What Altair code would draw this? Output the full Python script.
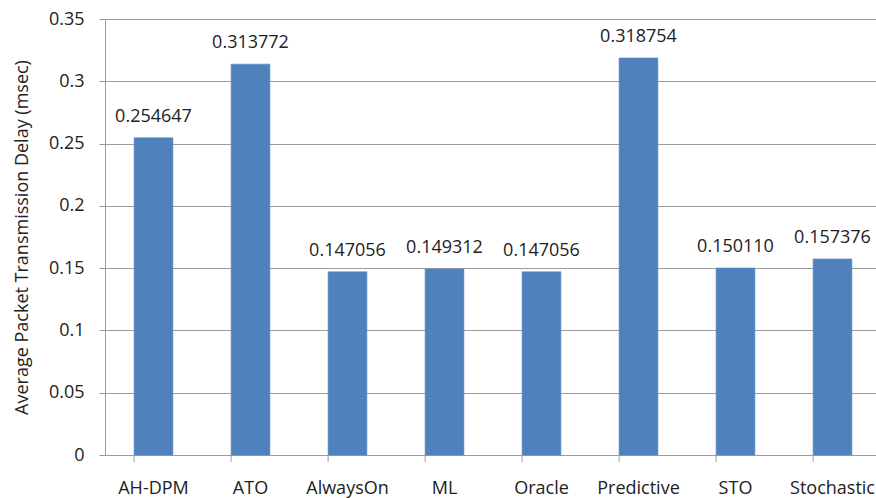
import altair as alt
import pandas as pd

# Average packet transmission delay per power-management policy
policies = ["AH-DPM", "ATO", "AlwaysOn", "ML", "Oracle", "Predictive", "STO", "Stochastic"]
delays = [0.254647, 0.313772, 0.147056, 0.149312, 0.147056, 0.318754, 0.150110, 0.157376]
delay_labels = ["0.254647", "0.313772", "0.147056", "0.149312", "0.147056", "0.318754", "0.150110", "0.157376"]
y_ticks = [0, 0.05, 0.1, 0.15, 0.2, 0.25, 0.3, 0.35]

df = pd.DataFrame({"policy": policies, "delay": delays, "label": delay_labels})

FONT = "Open Sans"
GRAY = "#9c9c9c"
TEXT = "#222222"

x_scale = alt.Scale(domain=policies, range=[0, 776], paddingInner=0.6, paddingOuter=0.3)
y_scale = alt.Scale(domain=[0, 0.35], nice=False, zero=True)

bars = alt.Chart(df).mark_bar(color="#4f81bd", stroke="#5a8ac4", strokeWidth=0.6).encode(
    x=alt.X(
        "policy:N",
        scale=x_scale,
        sort=policies,
        axis=alt.Axis(
            title=None,
            ticks=False,
            domain=True,
            domainColor=GRAY,
            labelAngle=0,
            labelFont=FONT,
            labelFontSize=18,
            labelColor=TEXT,
            labelPadding=24,
        ),
    ),
    y=alt.Y(
        "delay:Q",
        scale=y_scale,
        axis=alt.Axis(
            title="Average Packet Transmission Delay (msec)",
            values=y_ticks,
            format="~g",
            grid=True,
            gridColor=GRAY,
            domainColor=GRAY,
            tickColor=GRAY,
            tickSize=6,
            labelFont=FONT,
            labelFontSize=18,
            labelColor=TEXT,
            labelPadding=15,
            titleFont=FONT,
            titleFontSize=18,
            titleFontWeight="normal",
            titleColor=TEXT,
            titleX=-74,
        ),
    ),
)

labels = alt.Chart(df).mark_text(
    font=FONT, fontSize=18, color=TEXT, baseline="middle", dy=-21
).encode(
    x=alt.X("policy:N", scale=x_scale, sort=policies),
    y=alt.Y("delay:Q", scale=y_scale),
    text="label:N",
)

# category separator ticks below the x axis line
sep_ticks = alt.Chart(df).mark_rule(color=GRAY, strokeWidth=1).encode(
    x=alt.X("policy:N", scale=x_scale, sort=policies, bandPosition=0),
    y=alt.value(436),
    y2=alt.value(443),
)

chart = (
    alt.layer(bars, labels, sep_ticks)
    .properties(
        width=771,
        height=436,
        autosize=alt.AutoSizeParams(type="none"),
        padding={"left": 105, "top": 19, "right": 0, "bottom": 43},
    )
    .configure_view(stroke=None)
    .configure(background="white")
)

chart.save("out.html", embed_options={"renderer": "svg", "actions": False})
